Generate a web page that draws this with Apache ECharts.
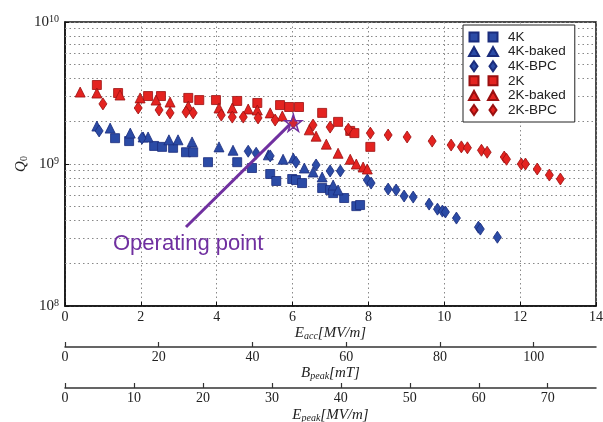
<!DOCTYPE html>
<html>
<head>
<meta charset="utf-8">
<script src="https://cdn.jsdelivr.net/npm/echarts@6/dist/echarts.min.js"></script>
<style>
  html, body { margin: 0; padding: 0; background: #fff; }
  #chart { width: 603px; height: 422px; }
</style>
</head>
<body>
<div id="chart"></div>
<script>
// [E_acc (MV/m), Q0]
const k4 = [[1.32, 1.52e9], [1.69, 1.45e9], [2.35, 1.34e9], [2.56, 1.32e9], [2.85, 1.30e9], [3.19, 1.21e9], [3.38, 1.21e9], [3.77, 1.03e9], [4.54, 1.03e9], [4.93, 0.937e9], [5.41, 0.85e9], [5.57, 0.759e9], [5.99, 0.784e9], [6.09, 0.771e9], [6.25, 0.734e9], [6.78, 0.677e9], [6.99, 0.656e9], [7.07, 0.624e9], [7.36, 0.576e9], [7.68, 0.505e9], [7.78, 0.514e9]]
const k4Baked = [[0.84, 1.85e9], [1.19, 1.79e9], [1.72, 1.65e9], [2.06, 1.55e9], [2.19, 1.55e9], [2.74, 1.48e9], [2.98, 1.48e9], [3.35, 1.43e9], [4.06, 1.32e9], [4.43, 1.25e9], [5.36, 1.16e9], [5.75, 1.08e9], [6.02, 1.10e9], [6.31, 0.937e9], [6.54, 0.878e9], [6.78, 0.81e9], [7.07, 0.711e9], [7.20, 0.656e9]]
const k4Bpc = [[0.90, 1.71e9], [2.03, 1.52e9], [4.83, 1.23e9], [5.04, 1.19e9], [5.41, 1.14e9], [6.09, 1.03e9], [6.62, 0.984e9], [6.99, 0.893e9], [7.26, 0.893e9], [7.97, 0.771e9], [8.07, 0.734e9], [8.52, 0.666e9], [8.73, 0.656e9], [8.94, 0.595e9], [9.18, 0.585e9], [9.60, 0.522e9], [9.82, 0.481e9], [9.95, 0.466e9], [10.03, 0.459e9], [10.32, 0.416e9], [10.90, 0.359e9], [10.95, 0.348e9], [11.40, 0.305e9]]
const k2 = [[0.84, 3.60e9], [1.40, 3.16e9], [2.19, 3.01e9], [2.53, 3.01e9], [3.25, 2.92e9], [3.54, 2.82e9], [3.98, 2.82e9], [4.54, 2.78e9], [5.07, 2.69e9], [5.67, 2.60e9], [5.91, 2.52e9], [6.17, 2.52e9], [6.78, 2.29e9], [7.20, 1.98e9], [7.52, 1.71e9], [7.63, 1.65e9], [8.05, 1.32e9]]
const k2Baked = [[0.40, 3.21e9], [0.84, 3.16e9], [1.45, 3.06e9], [1.98, 2.92e9], [2.40, 2.82e9], [2.77, 2.73e9], [3.25, 2.56e9], [4.06, 2.48e9], [4.41, 2.48e9], [4.83, 2.44e9], [5.07, 2.40e9], [5.41, 2.29e9], [5.73, 2.18e9], [6.44, 1.74e9], [6.62, 1.57e9], [6.89, 1.38e9], [7.20, 1.19e9], [7.52, 1.08e9], [7.68, 1.00e9], [7.86, 0.952e9], [7.97, 0.922e9]]
const k2Bpc = [[1.00, 2.65e9], [1.93, 2.48e9], [2.48, 2.40e9], [2.77, 2.29e9], [3.19, 2.32e9], [3.38, 2.29e9], [4.12, 2.21e9], [4.41, 2.14e9], [4.70, 2.14e9], [5.09, 2.11e9], [5.54, 2.04e9], [6.02, 1.95e9], [6.54, 1.88e9], [6.99, 1.82e9], [7.47, 1.76e9], [8.05, 1.65e9], [8.52, 1.60e9], [9.02, 1.55e9], [9.68, 1.45e9], [10.18, 1.36e9], [10.45, 1.32e9], [10.61, 1.30e9], [10.98, 1.25e9], [11.13, 1.21e9], [11.58, 1.12e9], [11.64, 1.08e9], [12.03, 1.00e9], [12.14, 1.00e9], [12.45, 0.922e9], [12.77, 0.836e9], [13.06, 0.784e9]]

const bPeakTicks = [0, 20, 40, 60, 80, 100]
const ePeakTicks = [0, 10, 20, 30, 40, 50, 60, 70]
// operating point arrow: tail and head
const opTail = [3.19, 3.6e8]
const opHead = [5.93, 1.9e9]
const opPoint = [6.02, 1.95e9]

const BLUE = '#2b4ba6'
const BLUE_EDGE = '#1a2c7c'
const RED = '#e42320'
const RED_EDGE = '#9a1010'
const PURPLE = '#7030a0'
const SERIF = "'Liberation Serif', 'DejaVu Serif', serif"
const SANS = "'Liberation Sans', Arial, sans-serif"
const DOT = { type: [1.5, 3], color: '#888', width: 1 }

// minor log gridlines (2..9 x 10^n)
const minorLines = []
;[1e8, 1e9].forEach(base => {
  for (let m = 2; m <= 9; m++) minorLines.push({ yAxis: m * base })
})

// legend icons: two markers side by side (like matplotlib numpoints=2)
const ICON_RECT = 'path://M0,0M34,10M0.5,0.5h9v9h-9zM19.5,0.5h9v9h-9z'
const ICON_TRI = 'path://M0,0M34,10M0,9.5L5,0.5L10,9.5zM19,9.5L24,0.5L29,9.5z'
const ICON_DIA = 'path://M0,0M34,10M5,0L8.5,5L5,10L1.5,5zM24,0L27.5,5L24,10L20.5,5z'

function scatter(name, data, symbol, fill, edge) {
  return {
    name,
    type: 'scatter',
    data,
    symbol,
    symbolSize: symbol === 'diamond' ? [8, 12] : (symbol === 'triangle' ? 10 : 9),
    itemStyle: { color: fill, borderColor: edge, borderWidth: 0.8, opacity: 1 },
    emphasis: { disabled: true }
  }
}

function supLabel(v) {
  const e = Math.round(Math.log10(v))
  return '{b|10}{s|' + e + '}'
}

function axisName(text) {
  return {
    name: text,
    nameLocation: 'middle',
    nameMoveOverlap: false,
    nameTextStyle: {
      rich: {
        i: { fontFamily: SERIF, fontStyle: 'italic', fontSize: 15, color: '#222' },
        sub: { fontFamily: SERIF, fontStyle: 'italic', fontSize: 10, color: '#222', verticalAlign: 'bottom' }
      }
    }
  }
}

const chart = echarts.init(document.getElementById('chart'), null, { renderer: 'canvas' })

const option = {
  animation: false,
  backgroundColor: '#fff',
  grid: {
    left: 65, right: 7, top: 22, bottom: 116,
    containLabel: false, outerBoundsMode: 'none',
    show: true, borderColor: '#111', borderWidth: 1.5, backgroundColor: 'transparent'
  },
  legend: {
    orient: 'vertical',
    left: 463, top: 25,
    padding: [5, 9, 5, 5],
    itemGap: 0.6,
    itemWidth: 34, itemHeight: 10,
    backgroundColor: '#fff',
    borderColor: '#222', borderWidth: 1,
    textStyle: { fontFamily: SANS, fontSize: 13.5, color: '#222', lineHeight: 14 },
    data: [
      { name: '4K', icon: ICON_RECT },
      { name: '4K-baked', icon: ICON_TRI },
      { name: '4K-BPC', icon: ICON_DIA },
      { name: '2K', icon: ICON_RECT },
      { name: '2K-baked', icon: ICON_TRI },
      { name: '2K-BPC', icon: ICON_DIA }
    ]
  },
  xAxis: [Object.assign({
    type: 'value', min: 0, max: 14, interval: 2, position: 'bottom',
    axisLine: { show: true, onZero: false, lineStyle: { color: '#111', width: 1.5 } },
    axisTick: { show: true, inside: true, length: 4, lineStyle: { color: '#111' } },
    axisLabel: { margin: 4, color: '#222', fontFamily: SERIF, fontSize: 14 },
    splitLine: { show: true, lineStyle: DOT },
    nameGap: 20
  }, axisName('{i|E}{sub|acc}{i|[MV/m]}')), Object.assign({
    type: 'value', min: 0, max: 113.3, interval: 20, position: 'bottom', offset: 41,
    axisLine: { show: true, onZero: false, lineStyle: { color: '#333', width: 1.5 } },
    axisTick: { show: true, inside: true, length: 5, customValues: bPeakTicks, lineStyle: { color: '#333', width: 1.2 } },
    axisLabel: { margin: 3, color: '#222', fontFamily: SERIF, fontSize: 14, customValues: bPeakTicks },
    splitLine: { show: false },
    nameGap: 19
  }, axisName('{i|B}{sub|peak}{i|[mT]}')), Object.assign({
    type: 'value', min: 0, max: 77, interval: 10, position: 'bottom', offset: 82,
    axisLine: { show: true, onZero: false, lineStyle: { color: '#333', width: 1.5 } },
    axisTick: { show: true, inside: true, length: 5, customValues: ePeakTicks, lineStyle: { color: '#333', width: 1.2 } },
    axisLabel: { margin: 3, color: '#222', fontFamily: SERIF, fontSize: 14, customValues: ePeakTicks },
    splitLine: { show: false },
    nameGap: 20
  }, axisName('{i|E}{sub|peak}{i|[MV/m]}'))],
  yAxis: {
    type: 'log', logBase: 10, min: 1e8, max: 1e10,
    axisLine: { show: true, lineStyle: { color: '#111', width: 1.5 } },
    axisTick: { show: true, inside: true, length: 4, lineStyle: { color: '#111' } },
    axisLabel: {
      margin: 6,
      formatter: supLabel,
      rich: {
        b: { fontFamily: SERIF, fontSize: 15, color: '#222' },
        s: { fontFamily: SERIF, fontSize: 10, color: '#222', verticalAlign: 'top' }
      }
    },
    splitLine: { show: true, lineStyle: DOT },
    name: '{q|Q}{s|0}',
    nameLocation: 'middle', nameRotate: 90, nameGap: 36, nameMoveOverlap: false,
    nameTextStyle: {
      rich: {
        q: { fontFamily: SERIF, fontStyle: 'italic', fontSize: 15, color: '#222' },
        s: { fontFamily: SERIF, fontSize: 10, color: '#222', verticalAlign: 'bottom' }
      }
    }
  },
  graphic: [{
    type: 'text', left: 113, top: 233, z: 10,
    style: { text: 'Operating point', fill: PURPLE, font: '22px ' + SANS }
  }],
  series: [
    {
      name: 'minor-grid', type: 'scatter', data: [], silent: true,
      markLine: { silent: true, z: 1, symbol: 'none', label: { show: false }, lineStyle: DOT, data: minorLines }
    },
    scatter('4K', k4, 'rect', BLUE, BLUE_EDGE),
    scatter('4K-baked', k4Baked, 'triangle', BLUE, BLUE_EDGE),
    scatter('4K-BPC', k4Bpc, 'diamond', BLUE, BLUE_EDGE),
    scatter('2K', k2, 'rect', RED, RED_EDGE),
    scatter('2K-baked', k2Baked, 'triangle', RED, RED_EDGE),
    Object.assign(scatter('2K-BPC', k2Bpc, 'diamond', RED, RED_EDGE), {
      markLine: {
        silent: true, z: 6, symbol: ['none', 'arrow'], symbolSize: [0, 11],
        label: { show: false },
        lineStyle: { color: PURPLE, width: 3, type: 'solid' },
        data: [[{ coord: opTail }, { coord: opHead }]]
      },
      markPoint: {
        silent: true,
        symbol: 'path://M50,0L61,35L98,35L68,57L79,91L50,70L21,91L32,57L2,35L39,35Z',
        symbolSize: 17,
        itemStyle: { color: 'rgba(112,48,160,0.15)', borderColor: PURPLE, borderWidth: 1.5 },
        label: { show: false },
        data: [{ coord: opPoint }]
      }
    })
  ]
}

chart.setOption(option)
</script>
</body>
</html>
